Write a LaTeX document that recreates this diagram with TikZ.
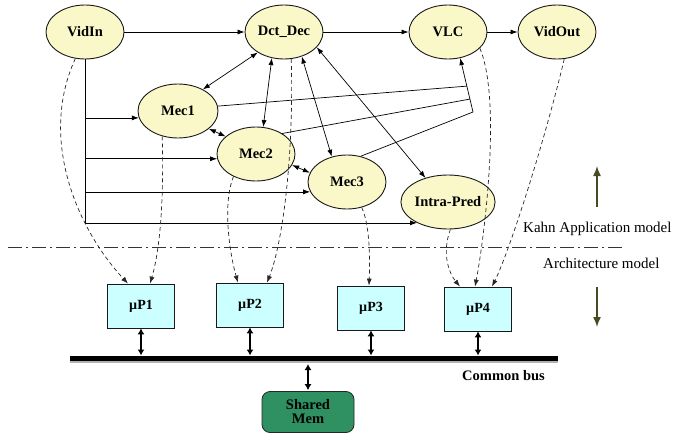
\documentclass[tikz,border=0pt]{standalone}
\usepackage{fontspec}
\setmainfont{Liberation Serif}
\usetikzlibrary{shapes.geometric,arrows.meta,calc}
\definecolor{procfill}{HTML}{FAF8C8}
\definecolor{cpufill}{HTML}{CCFFFF}
\definecolor{memfill}{HTML}{2F9062}
\definecolor{olivec}{HTML}{4A4A22}
\begin{document}
\begin{tikzpicture}[x=1pt,y=-1pt,
  proc/.style={ellipse, draw=black!90, fill=procfill, line width=0.9pt,
    minimum width=78pt, minimum height=54pt, inner sep=0pt,
    font=\fontsize{14.5}{16}\selectfont\bfseries},
  cpu/.style={rectangle, draw=black!90, fill=cpufill, line width=0.8pt,
    minimum width=67pt, minimum height=44pt, inner sep=0pt,
    font=\fontsize{14}{16}\selectfont\bfseries},
  memb/.style={rectangle, rounded corners=8pt, draw=black!85, fill=memfill, line width=0.8pt,
    minimum width=92pt, minimum height=41pt, inner sep=0pt, align=center,
    font=\fontsize{14.5}{14}\selectfont\bfseries},
  arr/.style={-{Latex[length=7pt,width=5pt]}, line width=0.7pt},
  darr/.style={{Latex[length=7pt,width=5pt]}-{Latex[length=7pt,width=5pt]}, line width=0.7pt},
  maparr/.style={-{Latex[length=7pt,width=5pt]}, line width=0.7pt, draw=black!85, dash pattern=on 4pt off 3pt},
  busarr/.style={{Latex[length=6pt,width=7pt]}-{Latex[length=6pt,width=7pt]}, line width=1.1pt},
  layerarr/.style={-{Latex[length=10pt,width=8pt]}, line width=1.5pt, draw=olivec},
  lbl/.style={anchor=base west, inner sep=0pt, font=\fontsize{15}{16}\selectfont},
  lblb/.style={anchor=base west, inner sep=0pt, font=\fontsize{14.5}{16}\selectfont\bfseries}
]
\useasboundingbox (0,0) rectangle (674,436);

% application nodes
\node[proc] (vidin) at (85,32) {VidIn};
\node[proc] (dct) at (284,32) {Dct\_Dec};
\node[proc] (vlc) at (448,32) {VLC};
\node[proc] (vidout) at (557,32) {VidOut};
\node[proc, minimum width=80pt] (mec1) at (178,111) {Mec1};
\node[proc] (mec2) at (256,154) {Mec2};
\node[proc] (mec3) at (347,182) {Mec3};
\node[proc, minimum width=80pt] (intra) at (448,202) {Intra-Pred};

% architecture nodes
\node[cpu] (p1) at (141,306) {µP1};
\node[cpu] (p2) at (250,305) {µP2};
\node[cpu] (p3) at (371,308) {µP3};
\node[cpu] (p4) at (478,309) {µP4};
\node[memb] (mem) at (308,412) {Shared\\Mem};

% top row
\draw[arr] (vidin) -- (dct);
\draw[arr] (dct) -- (vlc);
\draw[arr] (vlc) -- (vidout);

% VidIn trunk and branches
\draw[arr] (vidin.south) -- (vidin.south |- intra.214) -- (intra.214);
\draw[arr] (vidin.south |- mec1.190) -- (mec1.190);
\draw[arr] (vidin.south |- mec2.187) -- (mec2.187);
\draw[arr] (vidin.south |- mec3.195) -- (mec3.195);

% Dct_Dec links
\draw[darr] (mec1.41) -- (dct.218);
\draw[darr] (mec2.75) -- (dct.245);
\draw[darr] (mec3.121) -- (dct.306);
\draw[darr] (intra.133) -- (dct.335);
\draw[darr] (mec1.330) -- (mec2.150);
\draw[darr] (mec2.343) -- (mec3.166);

% links to VLC
\coordinate (j) at (473,112);
\draw[arr] (j) -- (vlc.295);
\draw[line width=0.7pt] (mec1.7) -- ($(j)!0.48!(vlc.295)$);
\draw[line width=0.7pt] (mec2.38) -- ($(j)!0.24!(vlc.295)$);
\draw[line width=0.7pt] (mec3.62) -- (j);

% mapping (dashed)
\draw[maparr] (vidin.250) .. controls (38,140) and (78,230) .. ([xshift=-13pt]p1.north);
\draw[maparr] (mec1.238) .. controls (164,200) and (160,250) .. ([xshift=9pt]p1.north);
\draw[maparr] (mec2.225) .. controls (222,205) and (230,255) .. ([xshift=-12pt]p2.north);
\draw[maparr] (dct.285) .. controls (294,160) and (282,245) .. ([xshift=17pt]p2.north);
\draw[maparr] (mec3.300) .. controls (370,225) and (370,260) .. ([xshift=-2pt]p3.north);
\draw[maparr] (intra.275) .. controls (442,252) and (448,272) .. ([xshift=-18pt]p4.north);
\draw[maparr] (vlc.333) .. controls (502,100) and (484,240) .. ([xshift=-3pt]p4.north);
\draw[maparr] (vidout.285) .. controls (545,140) and (510,250) .. ([xshift=14pt]p4.north);

% separation line
\coordinate (sl) at (8,247);
\coordinate (sr) at (623,247);
\draw[line width=0.8pt, black!80, dash pattern=on 14pt off 4pt on 2pt off 4pt] (sl) -- (sr);

% bus
\coordinate (busL) at (70,358);
\coordinate (busR) at (558,358);
\draw[line width=5pt, black!30] ([yshift=-2pt]busL) -- ([yshift=-2pt]busR);
\draw[line width=5pt] (busL) -- (busR);
\draw[busarr, shorten >=2.5pt] (p1.south) -- (p1.south |- busL);
\draw[busarr, shorten >=2.5pt] (p2.south) -- (p2.south |- busL);
\draw[busarr, shorten >=2.5pt] (p3.south) -- (p3.south |- busL);
\draw[busarr, shorten >=2.5pt] (p4.south) -- (p4.south |- busL);
\draw[busarr, shorten <=6pt, shorten >=1pt] (mem.north |- busL) -- (mem.north);

% labels
\node[lbl] (kahn) at (523,232) {Kahn Application model};
\node[lbl] (arch) at (543,268) {Architecture model};
\node[lblb] (cbus) at (462,380) {Common bus};

% layer arrows
\coordinate (ua) at (597,207);
\coordinate (ub) at (597,166);
\coordinate (da) at (597,287);
\coordinate (db) at (597,327);
\draw[layerarr] (ua) -- (ub);
\draw[layerarr] (da) -- (db);
\end{tikzpicture}
\end{document}
